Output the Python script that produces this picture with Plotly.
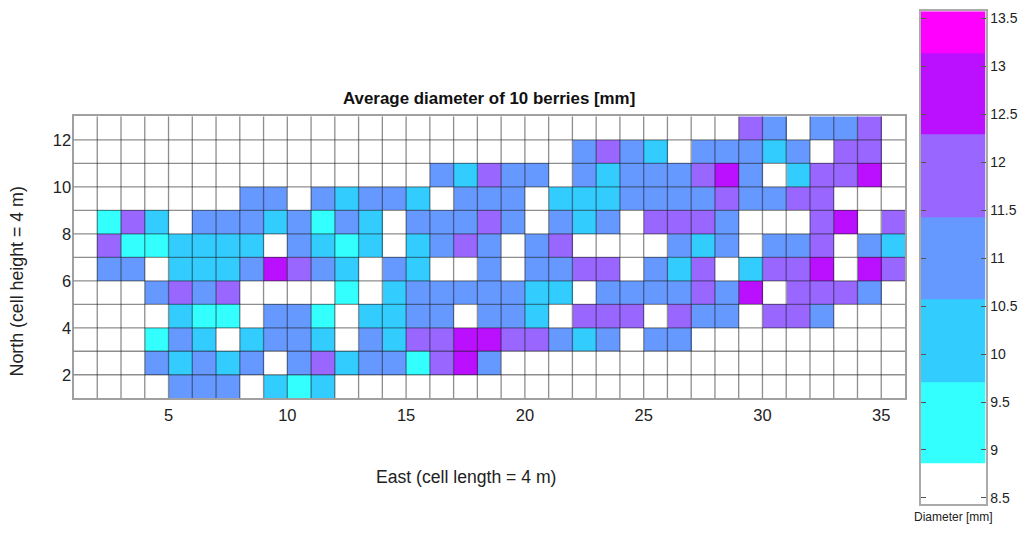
import plotly.graph_objects as go

W, C, L, B, P, V = 8.4, 9.3, 10.1, 11.0, 11.9, 12.7

east_edges = list(range(1, 37))
north_edges = list(range(1, 14))

row_y1 = [W, W, W, W, B, B, B, W, L, C, L, W, W, W, W, W, W, W, W, W, W, W, W, W, W, W, W, W, W, W, W, W, W, W, W]
row_y2 = [W, W, W, B, L, B, L, B, W, B, P, L, B, B, C, P, V, B, W, W, W, W, W, W, W, W, W, W, W, W, W, W, W, W, W]
row_y3 = [W, W, W, C, B, L, W, L, B, B, L, W, B, L, P, P, V, V, P, P, B, L, B, W, B, B, W, W, W, W, W, W, W, W, W]
row_y4 = [W, W, W, W, L, C, C, W, B, B, C, W, L, L, B, B, W, B, B, L, W, P, P, P, W, P, B, B, W, P, P, B, W, W, W]
row_y5 = [W, W, W, B, P, B, P, W, W, W, W, C, W, L, B, B, B, B, B, L, L, W, B, B, B, B, P, B, V, W, P, P, P, B, W]
row_y6 = [W, B, B, W, L, L, L, B, V, P, B, L, W, B, L, W, W, B, W, B, B, P, P, W, B, L, P, W, L, P, P, V, W, V, P]
row_y7 = [W, P, C, C, L, L, L, L, W, B, L, C, L, W, L, B, P, B, W, B, P, W, W, W, W, B, L, B, W, B, B, P, W, B, L]
row_y8 = [W, C, P, L, W, B, B, B, L, B, C, B, L, W, B, B, B, P, B, W, B, L, B, W, P, P, P, B, W, W, W, P, V, W, P]
row_y9 = [W, W, W, W, W, W, W, B, B, W, B, L, B, B, L, W, B, B, B, W, L, L, L, B, B, B, B, P, B, B, P, P, W, W, W]
row_y10 = [W, W, W, W, W, W, W, W, W, W, W, W, W, W, W, B, L, P, B, B, W, B, L, B, B, B, P, V, B, W, L, P, P, V, W]
row_y11 = [W, W, W, W, W, W, W, W, W, W, W, W, W, W, W, W, W, W, W, W, W, B, P, B, L, W, B, B, B, L, B, W, P, P, W]
row_y12 = [W, W, W, W, W, W, W, W, W, W, W, W, W, W, W, W, W, W, W, W, W, W, W, W, W, W, W, W, P, B, W, B, B, P, W]

diameter = [row_y1, row_y2, row_y3, row_y4, row_y5, row_y6, row_y7, row_y8, row_y9, row_y10, row_y11, row_y12]

band_colors = ["#FFFFFF", "#33FFFF", "#33CCFF", "#6699FF", "#9966FF", "#BB0FFF", "#FF00FF"]
band_edges = [8.44, 8.86, 9.71, 10.57, 11.43, 12.29, 13.14, 13.575]
band_mids = [8.64, 9.29, 10.14, 11.0, 11.86, 12.71, 13.36]

bar_ticks = [8.5, 9, 9.5, 10, 10.5, 11, 11.5, 12, 12.5, 13, 13.5]
bar_ticktext = ["8.5", "9", "9.5", "10", "10.5", "11", "11.5", "12", "12.5", "13", "13.5"]

zmin, zmax = band_edges[0], band_edges[-1]
scale = []
for i, col in enumerate(band_colors):
    scale.append([(band_edges[i] - zmin) / (zmax - zmin), col])
    scale.append([(band_edges[i + 1] - zmin) / (zmax - zmin), col])

W_PX, H_PX = 1024, 534
font = "Liberation Sans, Arial, sans-serif"

fig = go.Figure()
fig.add_trace(go.Heatmap(x=east_edges, y=north_edges, z=diameter, zmin=zmin, zmax=zmax,
                         colorscale=scale, showscale=False, hoverongaps=False))
fig.add_trace(go.Heatmap(x=[0, 1], y=band_edges, z=[[m] for m in band_mids], zmin=zmin, zmax=zmax,
                         colorscale=scale, showscale=False, xaxis="x2", yaxis="y2"))

# grid sits on top of the cells like the black edges of pcolor
grid = dict(color="rgba(30,30,30,0.5)", width=1.3)
for e in east_edges[1:-1]:
    fig.add_shape(type="line", x0=e, x1=e, y0=1, y1=13, xref="x", yref="y", line=grid)
for n in north_edges[1:-1]:
    fig.add_shape(type="line", x0=1, x1=36, y0=n, y1=n, xref="x", yref="y", line=grid)


def label(text, x, y, size, color="#222222", angle=0):
    # x and y given in pixels of the page
    return dict(text=text, x=x / W_PX, y=1 - y / H_PX, xref="paper", yref="paper", xanchor="center",
                yanchor="middle", showarrow=False, textangle=angle, font=dict(size=size, color=color))


fig.update_layout(
    width=W_PX, height=H_PX, margin=dict(l=0, r=0, t=0, b=0),
    paper_bgcolor="white", plot_bgcolor="white", showlegend=False,
    font=dict(family=font, color="#222222", size=15),
    xaxis=dict(domain=[73.5 / W_PX, 905 / W_PX], range=[1, 36], tickvals=[5, 10, 15, 20, 25, 30, 35],
               showgrid=False, zeroline=False, ticks="", showline=True, mirror=True,
               linecolor="#A0A0A0", linewidth=2, tickfont=dict(size=16.5), ticklabelstandoff=1),
    yaxis=dict(domain=[1 - 399.5 / H_PX, 1 - 116 / H_PX], range=[1, 13], tickvals=[2, 4, 6, 8, 10, 12],
               showgrid=False, zeroline=False, ticks="", showline=True, mirror=True,
               linecolor="#A0A0A0", linewidth=2, tickfont=dict(size=16.5), ticklabelstandoff=-3),
    xaxis2=dict(domain=[920.5 / W_PX, 985.5 / W_PX], range=[0, 1], anchor="y2", showticklabels=False,
                showgrid=False, zeroline=False, ticks="", showline=True, mirror=True,
                linecolor="#AAAAAA", linewidth=2),
    yaxis2=dict(domain=[1 - 505.5 / H_PX, 1 - 10.3 / H_PX], range=[8.44, 13.575], anchor="x2", side="right",
                tickvals=bar_ticks, ticktext=bar_ticktext, ticks="inside", ticklen=5, tickcolor="#555555",
                showgrid=False, zeroline=False, showline=True, mirror="ticks",
                linecolor="#AAAAAA", linewidth=2, tickfont=dict(size=14)),
    annotations=[
        label("<b>Average diameter of 10 berries [mm]</b>", 489, 98, 16.9, "#111111"),
        label("East (cell length = 4 m)", 465.5, 479, 17.6),
        label("North (cell height = 4 m)", 17, 282, 17.8, angle=-90),
        label("Diameter [mm]", 953, 518.5, 12),
    ],
)

fig.write_html("out.html", post_script="document.body.style.margin='0';",
               config={"displayModeBar": False})
